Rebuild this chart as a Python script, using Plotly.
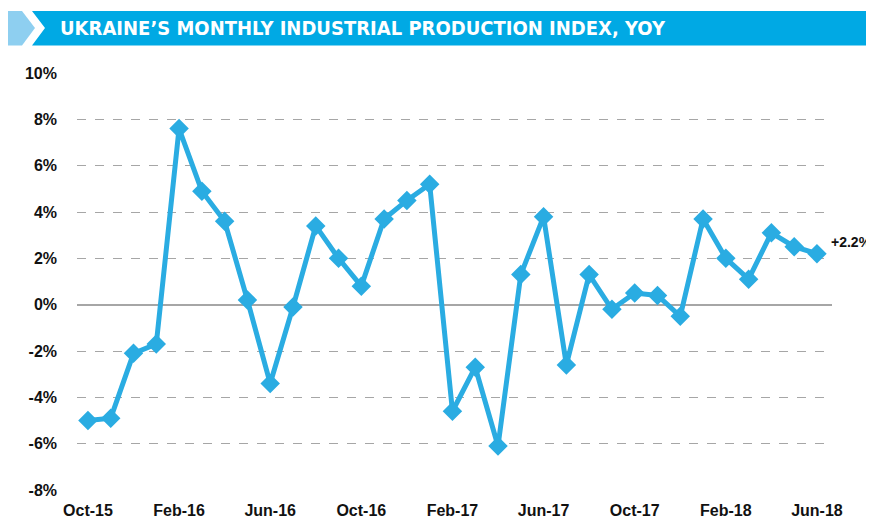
import plotly.graph_objects as go

months = ["Oct-15","Nov-15","Dec-15","Jan-16","Feb-16","Mar-16","Apr-16","May-16","Jun-16",
          "Jul-16","Aug-16","Sep-16","Oct-16","Nov-16","Dec-16","Jan-17","Feb-17","Mar-17",
          "Apr-17","May-17","Jun-17","Jul-17","Aug-17","Sep-17","Oct-17","Nov-17","Dec-17",
          "Jan-18","Feb-18","Mar-18","Apr-18","May-18","Jun-18"]
yoy = [-5.0,-4.9,-2.1,-1.7,7.6,4.9,3.6,0.2,-3.4,-0.1,3.4,2.0,0.8,3.7,4.5,5.2,-4.6,-2.7,
       -6.1,1.3,3.8,-2.6,1.3,-0.2,0.5,0.4,-0.5,3.7,2.0,1.1,3.1,2.5,2.2]
tick_labels = ["Oct-15","Feb-16","Jun-16","Oct-16","Feb-17","Jun-17","Oct-17","Feb-18","Jun-18"]
y_ticks = [-8,-6,-4,-2,0,2,4,6,8,10]
title = "UKRAINE’S MONTHLY INDUSTRIAL PRODUCTION INDEX, YOY"
last_label = "+2.2%"

# page body has an 8px margin: work in window pixels, shift by OFF
OFF = 8
W, H = 874 - OFF, 520 - OFF
L, R, T, B = 77 - OFF, 832 - OFF, 73 - OFF, 490 - OFF

def px(x):
    return (x - OFF - L) / (R - L)

def py(y):
    return (B - (y - OFF)) / (B - T)

xs = list(range(len(months)))
tickvals = [months.index(m) for m in tick_labels]

fig = go.Figure()
fig.add_trace(go.Scatter(
    x=xs, y=yoy, mode="lines+markers",
    line=dict(color="#2AACE2", width=5),
    marker=dict(symbol="diamond", size=15, color="#2AACE2"),
    hoverinfo="skip", showlegend=False,
))

def poly(pts):
    return "M " + " L ".join(f"{px(a):.5f},{py(b):.5f}" for a, b in pts) + " Z"

shapes = [
    dict(type="path", xref="paper", yref="paper", layer="above",
         path=poly([(7, 11), (22, 11), (35, 28), (22, 45.5), (7, 45.5)]),
         fillcolor="#8ECFF0", line=dict(width=0)),
    dict(type="path", xref="paper", yref="paper", layer="above",
         path=poly([(32, 11), (874, 11), (874, 45.5), (32, 45.5), (45, 28)]),
         fillcolor="#00A9E4", line=dict(width=0)),
]

tick_font = dict(family="Liberation Sans", size=16, color="#111111", weight="bold")

fig.update_layout(
    width=W, height=H,
    margin=dict(l=L, r=W - R, t=T, b=H - B, pad=0, autoexpand=False),
    plot_bgcolor="white", paper_bgcolor="white",
    shapes=shapes,
    xaxis=dict(range=[-0.48, 32.66], tickvals=tickvals, ticktext=tick_labels,
               showgrid=False, zeroline=False, showline=False, ticks="",
               automargin=False, ticklabelstandoff=9, tickfont=tick_font, fixedrange=True),
    yaxis=dict(range=[-8, 10], tickvals=y_ticks,
               ticktext=[f"{v}%" for v in y_ticks],
               showgrid=True, gridcolor="#A6A6A6", griddash="dash", gridwidth=1,
               zeroline=True, zerolinecolor="#A6A6A6", zerolinewidth=1.5,
               showline=False, ticks="", ticklabelstandoff=19, automargin=False,
               tickfont=tick_font, fixedrange=True),
    annotations=[
        dict(xref="paper", yref="paper", x=px(58), y=py(28), xanchor="left", yanchor="middle",
             text=f"<b>{title}</b>", showarrow=False,
             font=dict(family="DejaVu Sans Condensed", size=20, color="white")),
        dict(x=xs[-1], y=yoy[-1], xref="x", yref="y", xanchor="left", yanchor="middle",
             xshift=12, yshift=12, text=f"<b>{last_label}</b>", showarrow=False,
             font=dict(family="Liberation Sans", size=14, color="#111111")),
    ],
)
fig.write_html("out.html")
